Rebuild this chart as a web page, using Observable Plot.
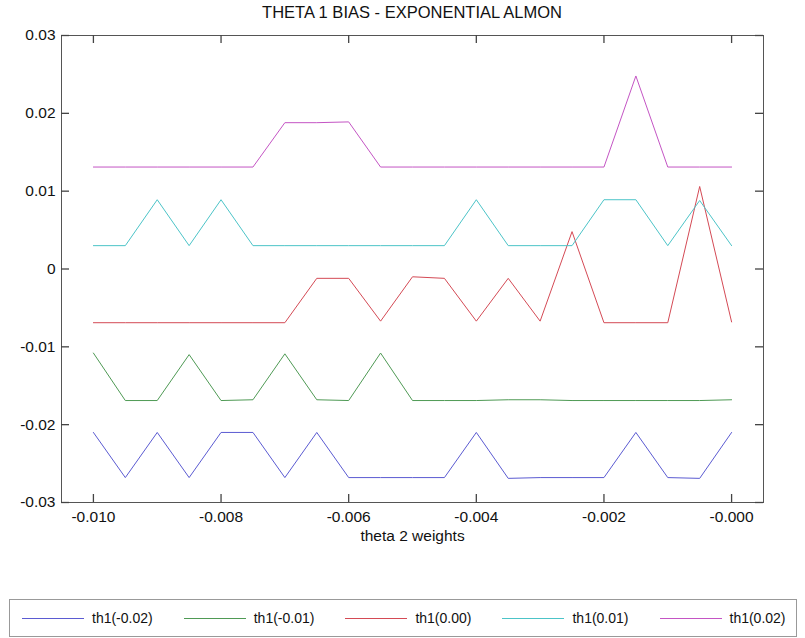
<!DOCTYPE html>
<html>
<head>
<meta charset="utf-8">
<script src="https://cdn.jsdelivr.net/npm/d3@7"></script>
<script src="https://cdn.jsdelivr.net/npm/@observablehq/plot@0.6"></script>
<style>
  html, body { margin: 0; padding: 0; background: #fff; }
  #wrap { position: relative; width: 805px; height: 638px; overflow: hidden; font-family: "Liberation Sans", Arial, sans-serif; }
  #title { position: absolute; left: 61px; width: 702px; top: 3px; text-align: center; font-size: 16.5px; color: #111; }
  #chart { position: absolute; left: 0; top: 24px; }
  #legend { position: absolute; left: 9px; top: 599px; width: 788px; height: 38px; box-sizing: border-box;
            border: 1px solid #999; display: flex; align-items: center; padding-left: 12px; }
  .item { display: flex; align-items: center; margin-right: 31px; font-size: 14px; color: #111; }
  .swatch { width: 62px; height: 0; border-top: 1px solid; margin-right: 8px; }
</style>
</head>
<body>
<div id="wrap">
  <div id="title"></div>
  <div id="chart"></div>
  <div id="legend"></div>
</div>
<script>
const titleText = "THETA 1 BIAS - EXPONENTIAL ALMON";
const xLabel = "theta 2 weights";

const xs = [-0.0100, -0.0095, -0.0090, -0.0085, -0.0080, -0.0075, -0.0070, -0.0065, -0.0060, -0.0055, -0.0050,
            -0.0045, -0.0040, -0.0035, -0.0030, -0.0025, -0.0020, -0.0015, -0.0010, -0.0005, 0.0000];

const seriesNames = ["th1(-0.02)", "th1(-0.01)", "th1(0.00)", "th1(0.01)", "th1(0.02)"];
const seriesColors = ["#5b5bd2", "#4f9a55", "#d44a55", "#4cc4c8", "#c455c4"];

const th1_m002 = [-0.0210, -0.0268, -0.0210, -0.0268, -0.0210, -0.0210, -0.0268, -0.0210, -0.0268, -0.0268, -0.0268,
                  -0.0268, -0.0210, -0.0269, -0.0268, -0.0268, -0.0268, -0.0210, -0.0268, -0.0269, -0.0210];
const th1_m001 = [-0.0108, -0.0169, -0.0169, -0.0110, -0.0169, -0.0168, -0.0109, -0.0168, -0.0169, -0.0108, -0.0169,
                  -0.0169, -0.0169, -0.0168, -0.0168, -0.0169, -0.0169, -0.0169, -0.0169, -0.0169, -0.0168];
const th1_000  = [-0.0069, -0.0069, -0.0069, -0.0069, -0.0069, -0.0069, -0.0069, -0.0012, -0.0012, -0.0067, -0.0010,
                  -0.0012, -0.0067, -0.0012, -0.0067, 0.0048, -0.0069, -0.0069, -0.0069, 0.0106, -0.0068];
const th1_001  = [0.0030, 0.0030, 0.0089, 0.0030, 0.0089, 0.0030, 0.0030, 0.0030, 0.0030, 0.0030, 0.0030,
                  0.0030, 0.0089, 0.0030, 0.0030, 0.0030, 0.0089, 0.0089, 0.0030, 0.0088, 0.0030];
const th1_002  = [0.0131, 0.0131, 0.0131, 0.0131, 0.0131, 0.0131, 0.0188, 0.0188, 0.0189, 0.0131, 0.0131,
                  0.0131, 0.0131, 0.0131, 0.0131, 0.0131, 0.0131, 0.0248, 0.0131, 0.0131, 0.0131];
const seriesValues = [th1_m002, th1_m001, th1_000, th1_001, th1_002];

const xTicks = [-0.010, -0.008, -0.006, -0.004, -0.002, 0.000];
const xTickLabels = ["-0.010", "-0.008", "-0.006", "-0.004", "-0.002", "-0.000"];
const yTicks = [-0.03, -0.02, -0.01, 0, 0.01, 0.02, 0.03];
const yTickLabels = ["-0.03", "-0.02", "-0.01", "0", "0.01", "0.02", "0.03"];

const xDomain = [-0.0105, 0.0005];
const yDomain = [-0.03, 0.03];

document.getElementById("title").textContent = titleText;

const W = 805, H = 526, mL = 61, mR = 42, mT = 11, mB = 48;
const frameW = W - mL - mR, frameH = H - mT - mB;
const frameColor = "#555";
const tickColor = "#444";
const tickLen = 8;

const lineMarks = seriesValues.map((vals, s) =>
  Plot.line(xs.map((x, i) => ({x, y: vals[i]})), {x: "x", y: "y", stroke: seriesColors[s], strokeWidth: 1})
);

const chart = Plot.plot({
  width: W,
  height: H,
  marginLeft: mL,
  marginRight: mR,
  marginTop: mT,
  marginBottom: mB,
  style: {fontFamily: "'Liberation Sans', Arial, sans-serif", fontSize: "15.5px", color: "#111", background: "#fff"},
  x: {domain: xDomain, label: null},
  y: {domain: yDomain, label: null},
  marks: [
    ...lineMarks,
    Plot.frame({stroke: frameColor}),
    // inward ticks on all four sides
    Plot.tickX(xTicks, {x: d => d, stroke: tickColor, strokeWidth: 1.3, insetTop: frameH - tickLen}),
    Plot.tickX(xTicks, {x: d => d, stroke: tickColor, strokeWidth: 1.3, insetBottom: frameH - tickLen}),
    Plot.tickY(yTicks, {y: d => d, stroke: tickColor, strokeWidth: 1.3, insetRight: frameW - tickLen}),
    Plot.tickY(yTicks, {y: d => d, stroke: tickColor, strokeWidth: 1.3, insetLeft: frameW - tickLen}),
    // tick labels
    Plot.axisX({anchor: "bottom", ticks: xTicks, tickSize: 0, tickPadding: 8, stroke: "none", fill: "#111",
                tickFormat: d => xTickLabels[xTicks.indexOf(d)],
                label: xLabel, labelAnchor: "center", labelArrow: "none", labelOffset: 38}),
    Plot.axisY({anchor: "left", ticks: yTicks, tickSize: 0, tickPadding: 6, stroke: "none", fill: "#111",
                tickFormat: d => yTickLabels[yTicks.indexOf(d)], label: null})
  ]
});
document.getElementById("chart").appendChild(chart);

const legend = document.getElementById("legend");
seriesNames.forEach((name, s) => {
  const item = document.createElement("div");
  item.className = "item";
  const sw = document.createElement("span");
  sw.className = "swatch";
  sw.style.borderTopColor = seriesColors[s];
  const tx = document.createElement("span");
  tx.textContent = name;
  item.appendChild(sw);
  item.appendChild(tx);
  legend.appendChild(item);
});
</script>
</body>
</html>
